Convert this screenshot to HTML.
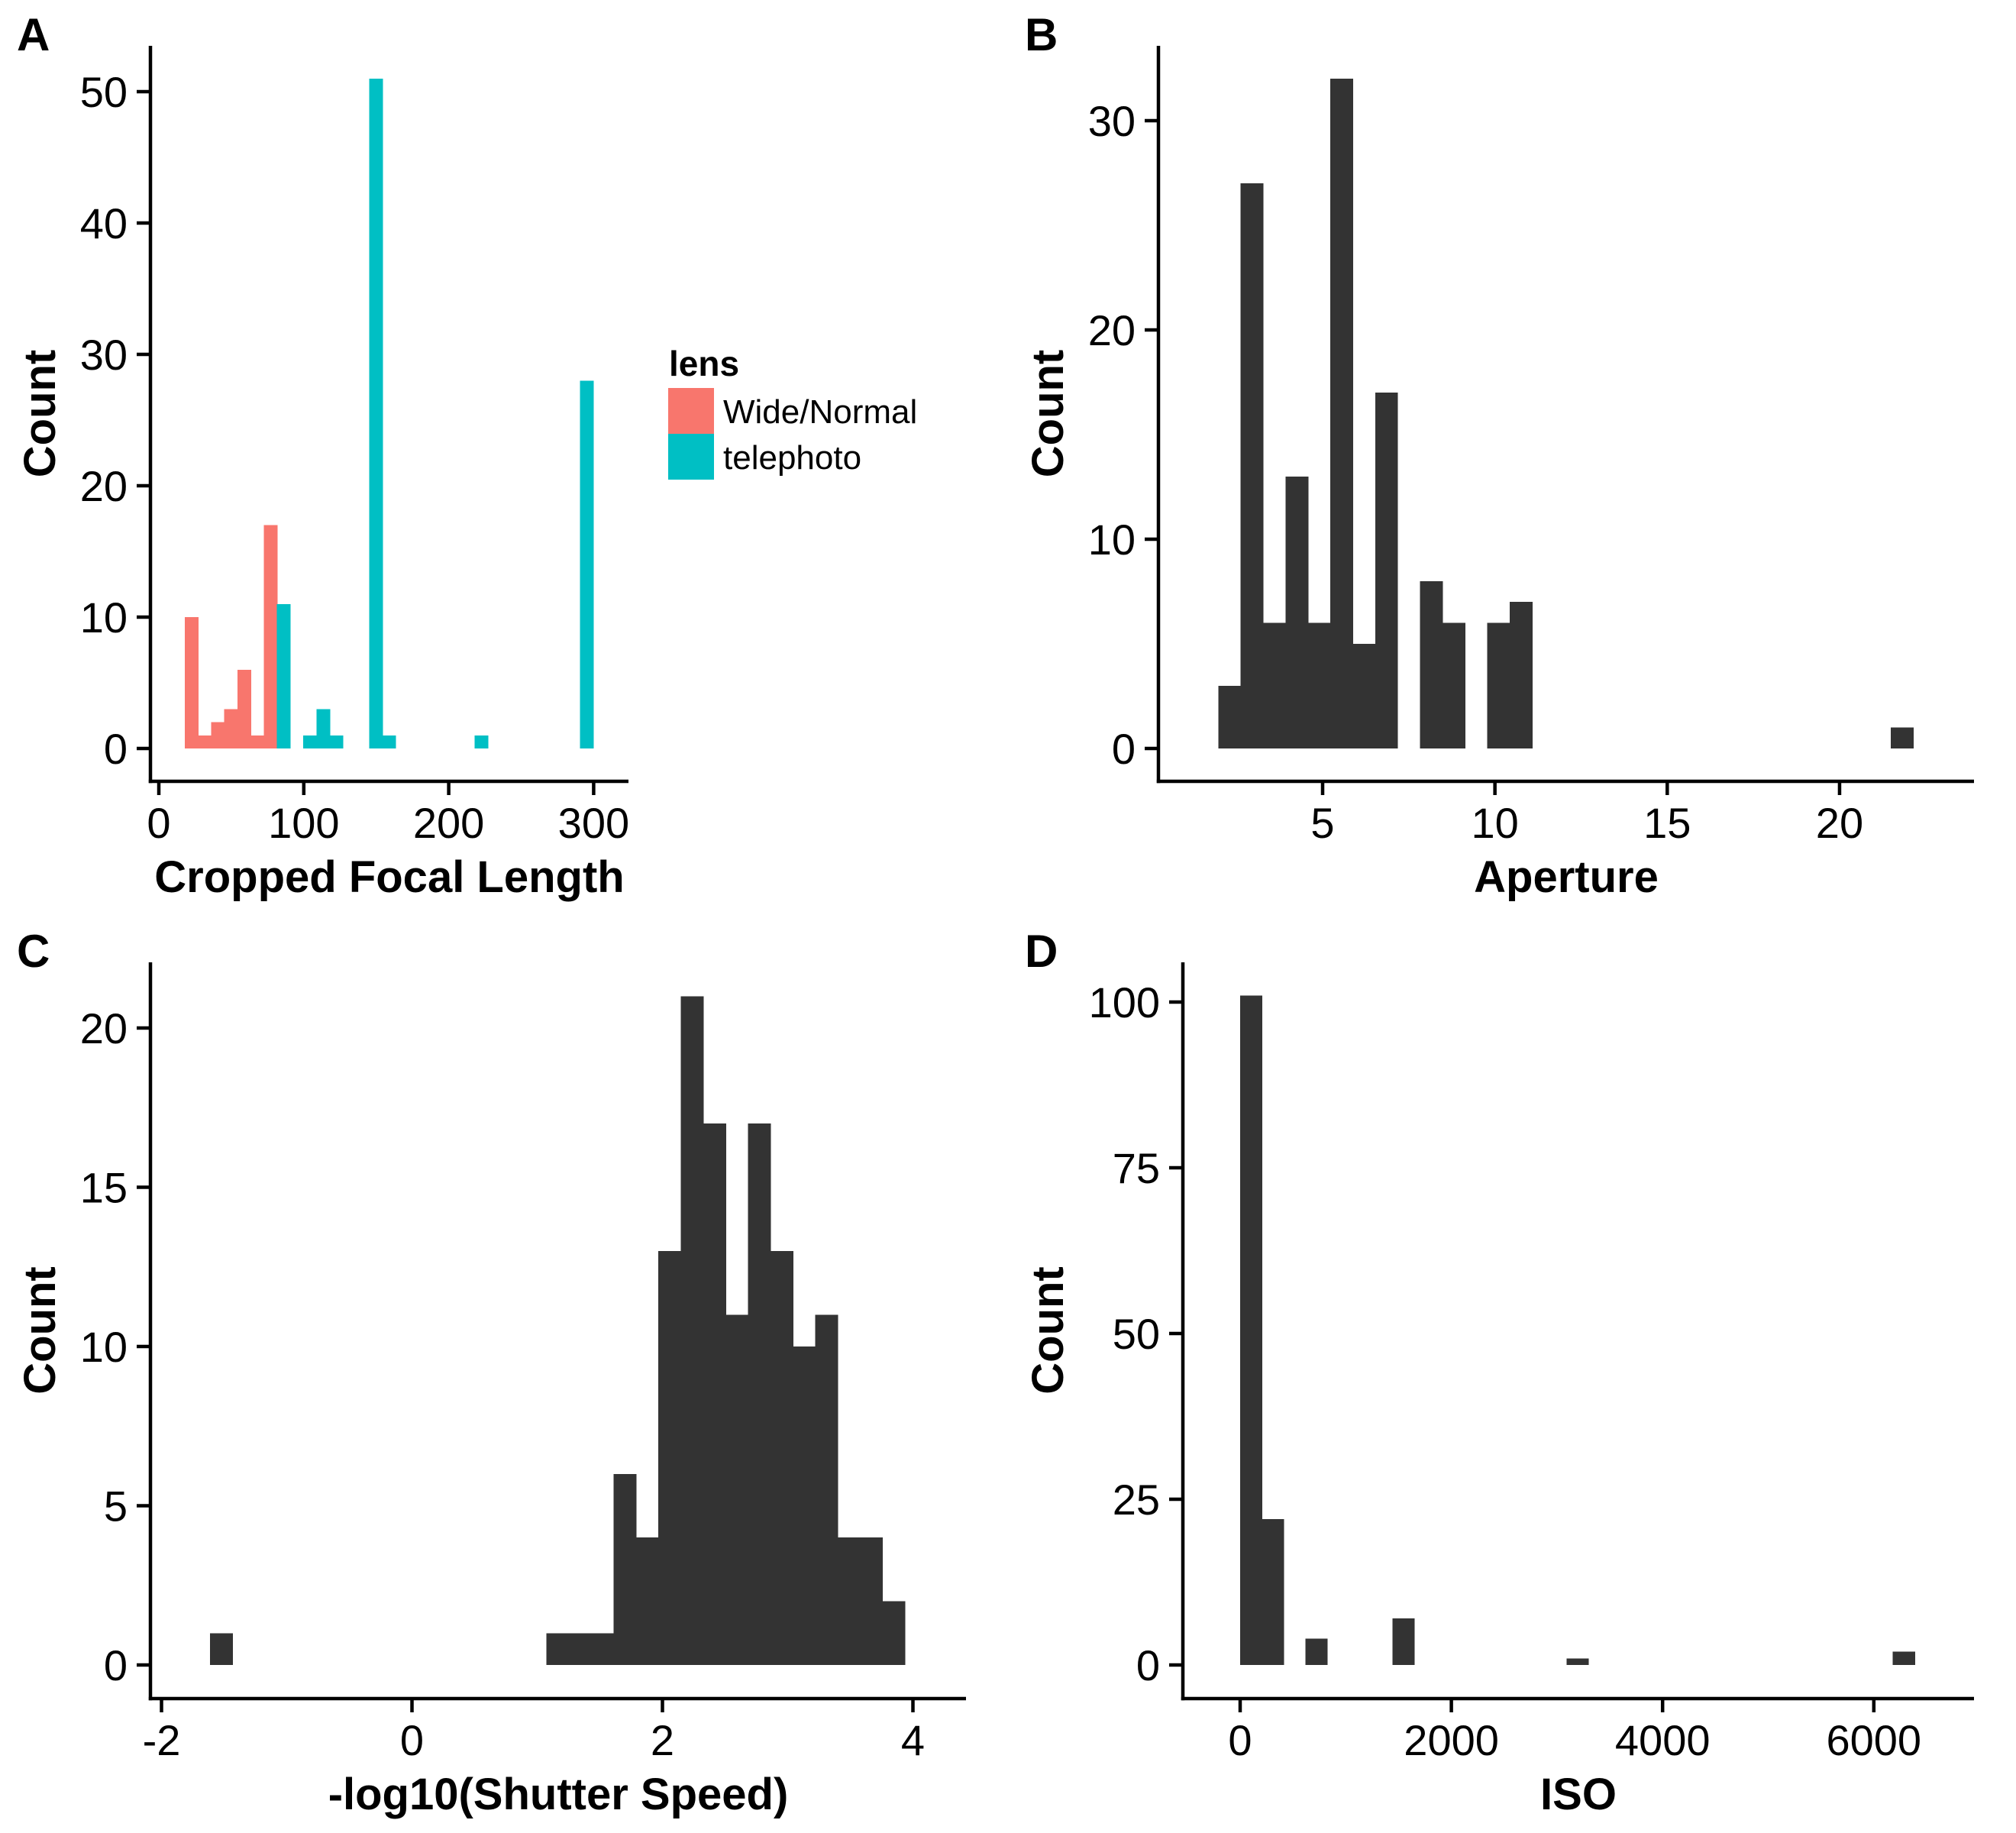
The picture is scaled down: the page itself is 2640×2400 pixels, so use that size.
<!DOCTYPE html>
<html><head><meta charset="utf-8">
<style>
html,body{margin:0;padding:0;background:#fff;}
svg{display:block;font-family:"Liberation Sans",Arial,sans-serif;}
</style></head>
<body>
<svg id="chart" width="2640" height="2400" viewBox="0 0 2640 2400" xmlns="http://www.w3.org/2000/svg">
<g id="root"></g>
</svg>
<script>
// ---- Panel A: cropped focal length (binned counts) ----
const aBinStart = 17.9;
const aBinWidth = 9.09;
const aWideIdx = [0,1,2,3,4,5,6];
const aWideCounts = [10,1,2,3,6,1,17];
const aTeleIdx = [7,9,10,11,14,15,22,30];
const aTeleCounts = [11,1,3,1,51,1,1,28];
const aXTicks = [0,100,200,300];
const aYTicks = [0,10,20,30,40,50];
// ---- Panel B: aperture ----
const bBinStart = 1.97;
const bBinWidth = 0.6505;
const bIdx = [0,1,2,3,4,5,6,7,9,10,12,13,30];
const bCounts = [3,27,6,13,6,32,5,17,8,6,6,7,1];
const bXTicks = [5,10,15,20];
const bYTicks = [0,10,20,30];
// ---- Panel C: -log10(shutter speed) ----
const cBinStart = -1.613;
const cBinWidth = 0.179;
const cIdx = [0,15,16,17,18,19,20,21,22,23,24,25,26,27,28,29,30];
const cCounts = [1,1,1,1,6,4,13,21,17,11,17,13,10,11,4,4,2];
const cXTicks = [-2,0,2,4];
const cYTicks = [0,5,10,15,20];
// ---- Panel D: ISO ----
const dBinStart = 0;
const dBinWidth = 206;
const dIdx = [0,1,3,7,15,30];
const dCounts = [101,22,4,7,1,2];
const dXTicks = [0,2000,4000,6000];
const dYTicks = [0,25,50,75,100];

const NS = "http://www.w3.org/2000/svg";
const root = document.getElementById('root');
function mk(tag, attrs, parent){
  const e = document.createElementNS(NS, tag);
  for (const k in attrs) e.setAttribute(k, attrs[k]);
  (parent||root).appendChild(e);
  return e;
}
function panel(opt){
  const g = mk('g', {});
  
  
  const sx = v => opt.x0 + (v - opt.xv0) * opt.kx;
  const sy = v => opt.y0 - v * opt.ky;
  opt.series.forEach(s => {
    s.idx.forEach((bi, i) => {
      const l = sx(opt.binStart + bi * opt.binWidth);
      const r = sx(opt.binStart + (bi + 1) * opt.binWidth);
      const t = sy(s.counts[i]);
      const rect = mk('rect', {x:l, y:t, width:r - l + 0.6, height:opt.y0 - t, fill:s.color, 'shape-rendering':'crispEdges'}, g);
      
      
    });
  });
  const ya = mk('line', {x1:opt.axX, y1:opt.top, x2:opt.axX, y2:opt.axY+2.2, stroke:'#000','stroke-width':4.5}, g);
  
  
  const xa = mk('line', {x1:opt.axX-2.2, y1:opt.axY, x2:opt.right, y2:opt.axY, stroke:'#000','stroke-width':4.5}, g);
  
  
  opt.yTicks.forEach(v => {
    const y = sy(v);
    const tk = mk('line', {x1:opt.axX-18, y1:y, x2:opt.axX, y2:y, stroke:'#000','stroke-width':4.5}, g);
    
    
    const tx = mk('text', {x:opt.axX-30, y:y+20, 'text-anchor':'end', 'font-size':56, fill:'#000'}, g);
    tx.textContent = v;
    
    
  });
  opt.xTicks.forEach(v => {
    const x = sx(v);
    const tk = mk('line', {x1:x, y1:opt.axY, x2:x, y2:opt.axY+18, stroke:'#000','stroke-width':4.5}, g);
    
    
    const tx = mk('text', {x:x, y:opt.axY+74, 'text-anchor':'middle', 'font-size':56, fill:'#000'}, g);
    tx.textContent = v;
    
    
  });
  const xt = mk('text', {x:opt.xTitleX, y:opt.axY+145, 'text-anchor':'middle', 'font-size':58, 'font-weight':'bold', fill:'#000'}, g);
  xt.textContent = opt.xTitle;
  
  
  const cy = (opt.top + opt.axY) / 2;
  const yt = mk('text', {x:0, y:0, 'text-anchor':'middle', 'font-size':58, 'font-weight':'bold', fill:'#000', transform:'translate(72,' + cy + ') rotate(-90)'}, g);
  if (opt.letter === 'B' || opt.letter === 'D') yt.setAttribute('transform', 'translate(1392,' + cy + ') rotate(-90)');
  yt.textContent = 'Count';
  
  
  const pl = mk('text', {x:opt.letterX, y:opt.letterY, 'font-size':60, 'font-weight':'bold', fill:'#000'}, g);
  pl.textContent = opt.letter;
  
  
}

panel({letter:'A', letterX:22, letterY:66, x0:208, xv0:0, kx:1.898, y0:980, ky:17.2,
  axX:197, axY:1023, top:60, right:823, binStart:aBinStart, binWidth:aBinWidth,
  series:[{name:'wide-normal', idx:aWideIdx, counts:aWideCounts, color:'#F8766D'},
          {name:'telephoto', idx:aTeleIdx, counts:aTeleCounts, color:'#00BFC4'}],
  xTicks:aXTicks, yTicks:aYTicks, xTitle:'Cropped Focal Length', xTitleX:510});
panel({letter:'B', letterX:1342, letterY:66, x0:1732, xv0:5, kx:45.13, y0:980, ky:27.4,
  axX:1517, axY:1023, top:60, right:2585, binStart:bBinStart, binWidth:bBinWidth,
  series:[{name:'aperture', idx:bIdx, counts:bCounts, color:'#333333'}],
  xTicks:bXTicks, yTicks:bYTicks, xTitle:'Aperture', xTitleX:2051});
panel({letter:'C', letterX:22, letterY:1266, x0:211.5, xv0:-2, kx:164, y0:2180, ky:41.7,
  axX:197, axY:2224, top:1260, right:1265, binStart:cBinStart, binWidth:cBinWidth,
  series:[{name:'shutter', idx:cIdx, counts:cCounts, color:'#333333'}],
  xTicks:cXTicks, yTicks:cYTicks, xTitle:'-log10(Shutter Speed)', xTitleX:731});
panel({letter:'D', letterX:1342, letterY:1266, x0:1624, xv0:0, kx:0.1383, y0:2180, ky:8.68,
  axX:1549, axY:2224, top:1260, right:2585, binStart:dBinStart, binWidth:dBinWidth,
  series:[{name:'iso', idx:dIdx, counts:dCounts, color:'#333333'}],
  xTicks:dXTicks, yTicks:dYTicks, xTitle:'ISO', xTitleX:2067});

const lg = mk('g', {});


const lt = mk('text', {x:876, y:492, 'font-size':46, 'font-weight':'bold', fill:'#000'}, lg);
lt.textContent = 'lens';


const k1 = mk('rect', {x:875, y:508, width:60, height:60, fill:'#F8766D'}, lg);


const k2 = mk('rect', {x:875, y:568, width:60, height:60, fill:'#00BFC4'}, lg);


const l1 = mk('text', {x:947, y:554, 'font-size':44, fill:'#000'}, lg);
l1.textContent = 'Wide/Normal';


const l2 = mk('text', {x:947, y:614, 'font-size':44, fill:'#000'}, lg);
l2.textContent = 'telephoto';


</script>
</body></html>
